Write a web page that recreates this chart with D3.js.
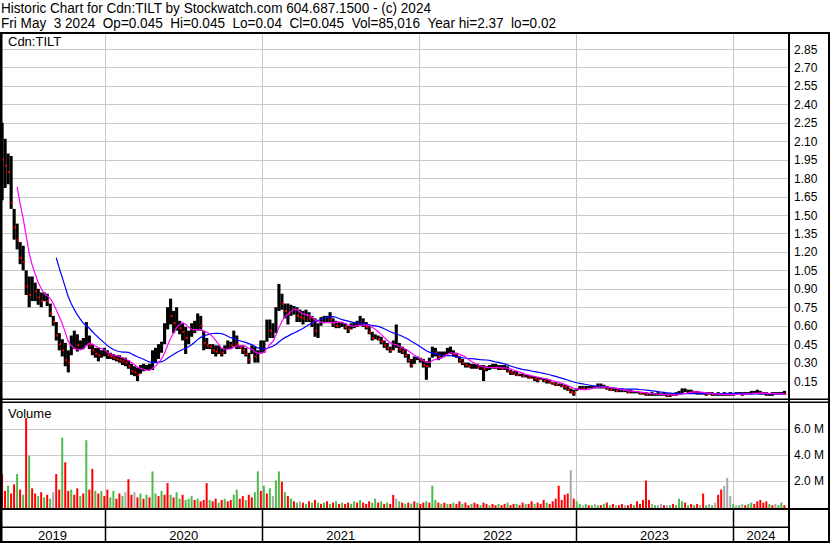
<!DOCTYPE html>
<html>
<head>
<meta charset="utf-8">
<script src="https://cdnjs.cloudflare.com/ajax/libs/d3/7.8.5/d3.min.js"></script>
<style>
body { margin: 0; background: #fff; }
text { font-family: "Liberation Sans", Arial, sans-serif; fill: #000; }
</style>
</head>
<body>
<div id="chart"></div>
<script>
/* Cdn:TILT weekly history */

var header_lines = [
	'Historic Chart for Cdn:TILT by Stockwatch.com 604.687.1500 - (c) 2024',
	'Fri May  3 2024  Op=0.045  Hi=0.045  Lo=0.04  Cl=0.045  Vol=85,016  Year hi=2.37  lo=0.02'
];
var year_labels  = ['2019', '2020', '2021', '2022', '2023', '2024'];
var price_ticks  = [0.15, 0.30, 0.45, 0.60, 0.75, 0.90, 1.05, 1.20, 1.35, 1.50, 1.65, 1.80, 1.95, 2.10, 2.25, 2.40, 2.55, 2.70, 2.85];
var volume_ticks = [2, 4, 6];   // millions

var week_high = [
	2.37,2.25,2.12,2.00,1.98,1.55,1.43,1.28,1.25,1.05,
	1.00,1.00,0.95,0.90,0.87,0.87,0.86,0.78,0.68,0.63,
	0.54,0.49,0.46,0.40,0.52,0.56,0.53,0.48,0.50,0.63,
	0.52,0.45,0.42,0.42,0.40,0.42,0.40,0.38,0.37,0.36,
	0.36,0.34,0.34,0.32,0.29,0.27,0.26,0.28,0.29,0.28,
	0.29,0.40,0.42,0.45,0.47,0.62,0.75,0.82,0.72,0.75,
	0.64,0.62,0.59,0.56,0.62,0.64,0.70,0.68,0.56,0.50,
	0.45,0.45,0.44,0.44,0.42,0.44,0.48,0.47,0.56,0.52,
	0.44,0.44,0.42,0.38,0.44,0.43,0.40,0.48,0.48,0.65,
	0.65,0.62,0.75,0.94,0.86,0.78,0.78,0.77,0.76,0.75,
	0.73,0.72,0.73,0.71,0.68,0.66,0.62,0.67,0.68,0.68,
	0.71,0.66,0.64,0.63,0.63,0.62,0.60,0.62,0.63,0.64,
	0.68,0.66,0.63,0.60,0.55,0.53,0.52,0.51,0.48,0.46,
	0.43,0.48,0.61,0.46,0.43,0.41,0.37,0.33,0.35,0.35,
	0.34,0.33,0.31,0.34,0.43,0.42,0.39,0.39,0.39,0.42,
	0.43,0.40,0.38,0.35,0.33,0.30,0.30,0.29,0.29,0.29,
	0.28,0.28,0.27,0.28,0.29,0.29,0.28,0.28,0.28,0.27,
	0.24,0.23,0.23,0.21,0.21,0.20,0.20,0.19,0.19,0.18,
	0.18,0.17,0.17,0.16,0.14,0.14,0.13,0.13,0.12,0.11,
	0.09,0.08,0.09,0.11,0.11,0.11,0.11,0.11,0.11,0.13,
	0.13,0.12,0.11,0.10,0.09,0.09,0.09,0.09,0.08,0.08,
	0.08,0.07,0.07,0.06,0.06,0.06,0.05,0.06,0.05,0.06,
	0.05,0.06,0.05,0.05,0.05,0.06,0.07,0.09,0.09,0.08,
	0.08,0.07,0.07,0.06,0.06,0.06,0.06,0.06,0.05,0.06,
	0.05,0.06,0.05,0.06,0.05,0.06,0.06,0.06,0.06,0.06,
	0.07,0.07,0.08,0.07,0.06,0.06,0.05,0.06,0.06,0.06,
	0.06,0.07
];

var week_low = [
	1.85,1.62,1.72,1.75,1.55,1.30,1.22,1.10,1.05,0.85,
	0.75,0.80,0.80,0.77,0.75,0.80,0.76,0.67,0.60,0.48,
	0.40,0.35,0.27,0.22,0.36,0.41,0.39,0.41,0.41,0.44,
	0.41,0.36,0.34,0.31,0.34,0.35,0.33,0.33,0.32,0.31,
	0.30,0.28,0.27,0.25,0.20,0.19,0.15,0.21,0.23,0.24,
	0.24,0.24,0.30,0.33,0.38,0.45,0.57,0.61,0.54,0.56,
	0.53,0.48,0.37,0.45,0.51,0.54,0.56,0.56,0.40,0.41,
	0.41,0.37,0.35,0.37,0.35,0.37,0.41,0.41,0.43,0.41,
	0.41,0.37,0.35,0.29,0.37,0.30,0.30,0.38,0.38,0.47,
	0.50,0.50,0.54,0.72,0.73,0.66,0.61,0.68,0.69,0.63,
	0.63,0.61,0.63,0.63,0.59,0.51,0.50,0.60,0.62,0.63,
	0.63,0.59,0.58,0.58,0.59,0.57,0.54,0.57,0.58,0.59,
	0.60,0.59,0.57,0.53,0.48,0.49,0.48,0.45,0.42,0.40,
	0.38,0.40,0.42,0.38,0.37,0.34,0.30,0.26,0.29,0.32,
	0.30,0.26,0.16,0.26,0.34,0.35,0.32,0.34,0.35,0.37,
	0.37,0.35,0.34,0.30,0.28,0.26,0.26,0.25,0.25,0.25,
	0.24,0.15,0.23,0.24,0.25,0.25,0.24,0.24,0.24,0.22,
	0.20,0.20,0.19,0.19,0.18,0.18,0.17,0.17,0.15,0.14,
	0.16,0.14,0.13,0.13,0.12,0.11,0.11,0.10,0.08,0.07,
	0.05,0.03,0.07,0.08,0.08,0.08,0.09,0.09,0.09,0.09,
	0.09,0.09,0.08,0.07,0.07,0.06,0.06,0.06,0.06,0.05,
	0.05,0.05,0.05,0.04,0.04,0.03,0.03,0.03,0.03,0.03,
	0.03,0.03,0.02,0.02,0.03,0.03,0.04,0.05,0.06,0.05,
	0.05,0.05,0.04,0.04,0.04,0.03,0.04,0.03,0.03,0.03,
	0.03,0.03,0.03,0.03,0.03,0.04,0.04,0.03,0.04,0.04,
	0.04,0.05,0.05,0.04,0.04,0.03,0.03,0.03,0.04,0.04,
	0.04,0.04
];

var week_close = [
	2.10,1.95,1.90,1.85,1.60,1.40,1.30,1.15,1.12,0.92,
	0.85,0.92,0.88,0.83,0.80,0.83,0.80,0.70,0.63,0.52,
	0.45,0.40,0.32,0.30,0.45,0.48,0.44,0.44,0.45,0.50,
	0.44,0.40,0.37,0.36,0.37,0.38,0.36,0.35,0.34,0.33,
	0.32,0.31,0.30,0.27,0.23,0.22,0.20,0.24,0.25,0.26,
	0.26,0.33,0.36,0.40,0.44,0.58,0.70,0.68,0.62,0.66,
	0.58,0.55,0.50,0.52,0.57,0.60,0.64,0.60,0.46,0.44,
	0.43,0.40,0.39,0.41,0.38,0.41,0.45,0.44,0.50,0.45,
	0.42,0.40,0.37,0.32,0.41,0.35,0.36,0.42,0.45,0.58,
	0.56,0.58,0.70,0.80,0.78,0.72,0.70,0.72,0.72,0.68,
	0.67,0.66,0.68,0.66,0.62,0.56,0.58,0.64,0.65,0.66,
	0.65,0.62,0.60,0.60,0.61,0.59,0.57,0.60,0.61,0.62,
	0.63,0.61,0.59,0.55,0.50,0.50,0.49,0.47,0.44,0.42,
	0.40,0.44,0.45,0.41,0.39,0.36,0.32,0.28,0.32,0.33,
	0.32,0.28,0.27,0.31,0.39,0.38,0.35,0.37,0.37,0.40,
	0.40,0.37,0.35,0.32,0.30,0.28,0.27,0.27,0.27,0.26,
	0.26,0.25,0.25,0.26,0.27,0.26,0.26,0.25,0.25,0.23,
	0.22,0.21,0.20,0.20,0.19,0.19,0.18,0.18,0.17,0.16,
	0.17,0.15,0.15,0.14,0.13,0.12,0.12,0.11,0.10,0.08,
	0.06,0.05,0.08,0.10,0.09,0.10,0.10,0.10,0.10,0.11,
	0.11,0.10,0.09,0.08,0.08,0.07,0.07,0.07,0.07,0.06,
	0.06,0.06,0.06,0.05,0.05,0.04,0.04,0.04,0.04,0.04,
	0.04,0.04,0.03,0.03,0.04,0.04,0.06,0.07,0.07,0.07,
	0.06,0.06,0.05,0.05,0.05,0.04,0.05,0.04,0.04,0.04,
	0.04,0.04,0.04,0.04,0.04,0.05,0.05,0.04,0.05,0.05,
	0.05,0.06,0.06,0.05,0.05,0.04,0.04,0.04,0.05,0.05,
	0.05,0.045
];

// peak daily volume of each week, millions
var week_volume = [
	2.8,2.5,1.2,1.6,1.0,1.7,2.5,1.3,0.9,6.8,
	3.9,1.4,1.0,0.8,1.1,0.7,0.9,0.6,1.1,2.5,
	1.3,5.3,3.4,1.2,1.3,0.9,1.4,0.8,1.0,5.1,
	1.3,2.9,1.2,1.0,1.2,0.8,1.3,0.7,1.2,0.6,
	1.0,0.8,1.1,2.1,0.9,1.1,0.7,1.0,0.6,0.9,
	0.7,2.7,1.0,0.8,1.2,0.9,1.8,0.9,0.7,1.1,
	0.6,0.9,0.5,0.6,0.8,0.5,0.6,0.4,0.5,1.8,
	0.5,0.4,0.6,0.3,0.5,0.6,0.4,0.5,0.9,1.3,
	0.6,0.8,0.5,0.9,0.7,1.1,2.7,1.2,1.6,1.0,
	1.4,0.8,2.0,2.7,1.9,1.1,0.8,0.6,0.4,0.3,
	0.4,0.3,0.2,0.4,0.3,0.5,0.3,0.2,0.3,0.4,
	0.2,0.3,0.4,0.2,0.3,0.2,0.3,0.2,0.4,0.3,
	0.5,0.3,0.2,0.4,0.3,0.6,0.3,0.4,0.2,0.3,
	0.2,0.9,0.6,0.4,0.3,0.2,0.3,0.2,0.4,0.3,
	0.2,0.3,0.4,0.3,1.6,0.5,0.3,0.2,0.3,0.2,
	0.2,0.3,0.2,0.4,0.2,0.3,0.1,0.2,0.3,0.2,
	0.1,0.3,0.2,0.1,0.2,0.1,0.2,0.1,0.2,0.3,
	0.1,0.2,0.2,0.1,0.3,0.2,0.2,0.4,0.2,0.3,
	0.2,0.5,0.3,0.2,0.4,0.6,1.6,0.5,0.9,1.0,
	2.8,0.6,0.4,0.2,0.1,0.2,0.1,0.1,0.2,0.1,
	0.1,0.2,0.3,0.1,0.2,0.1,0.1,0.2,0.1,0.1,
	0.2,0.1,0.4,0.2,0.5,2.0,0.5,0.2,0.1,0.1,
	0.2,0.1,0.1,0.1,0.2,0.1,0.6,0.4,0.3,0.1,
	0.2,0.1,0.2,0.1,1.0,0.1,0.2,0.1,0.3,0.9,
	1.3,1.6,2.2,0.8,0.2,0.1,0.1,0.2,0.1,0.2,
	0.3,0.2,0.4,0.5,0.3,0.4,0.2,0.1,0.2,0.1,
	0.3,0.1
];

// g = up, r = down, n = unchanged
var volume_color = (
	'grrgrrgrgr' + 'grrgrgrgnr' + 'rgrrgrrgrg' + 'rrgrgrrggr' + 'rgnrrnrgrg' +
	'rggrgrrgrg' + 'grgggrgrrr' + 'grrgrgrrgg' + 'rrgrrggrgr' + 'gnggrgrgrg' +
	'nrgrgrgrgr' + 'grgrgrrggr' + 'grrrggrgrg' + 'rrngrgrgrg' + 'rrgrggrgrg' +
	'rgrrgrrgrr' + 'grrgrrgrrg' + 'rrgrrgrrgr' + 'rrgrrrrrrr' + 'nrggngrgng' +
	'rgrgrnrrnr' + 'rgrrrrrngn' + 'nrngrgggrg' + 'rgrnrgngnr' + 'rnnngngnrg' +
	'grrrrrgrng' + 'gr'
).split('');

var first_week = new Date(2019, 4, 3);

var chart_width  = 830;
var chart_height = 543;
var plot_right   = 789;
var grid_color   = '#c8c8c8';
var colors       = { g: '#4cbb4c', r: '#ff0000', n: '#a8a8a8' };

var weeks = week_close.map(function(d, i){
	return {
		date: d3.timeDay.offset(first_week, 7 * i),
		high: week_high[i],
		low: week_low[i],
		close: week_close[i],
		prev: i > 0 ? week_close[i - 1] : week_close[i],
		volume: week_volume[i],
		color: volume_color[i]
	};
});

var svg = d3.select('#chart')
		.append('svg')
		.attr('width', chart_width)
		.attr('height', chart_height);

svg.append('rect')
		.attr('width', chart_width)
		.attr('height', chart_height)
		.attr('fill', '#fff');

// Scales
var x_scale = d3.scaleTime()
		.domain([new Date(2020, 0, 1), new Date(2024, 0, 1)])
		.range([105, 733]);

var y_scale = d3.scaleLinear()
		.domain([0, 2.85])
		.range([399.5, 49]);

var v_scale = d3.scaleLinear()
		.domain([0, 6])
		.range([506.5, 428.5]);

var year_starts = d3.timeYear.range(new Date(2020, 0, 1), new Date(2024, 1, 1));

// Header (keep the double spaces)
svg.selectAll('.header')
		.data(header_lines)
		.enter()
		.append('text')
		.attr('x', 1)
		.attr('y', function(d, i){ return 13 + i * 15; })
		.attr('font-size', '14px')
		.attr('textLength', function(d, i){ return i === 0 ? 430 : 555; })
		.attr('lengthAdjust', 'spacingAndGlyphs')
		.text(function(d){ return d.replace(/  /g, ' \u00a0'); });

// Grid lines
svg.selectAll('.pgrid')
		.data(price_ticks)
		.enter()
		.append('line')
		.attr('x1', 2)
		.attr('x2', plot_right)
		.attr('y1', function(d){ return Math.round(y_scale(d)) + 0.5; })
		.attr('y2', function(d){ return Math.round(y_scale(d)) + 0.5; })
		.attr('stroke', grid_color);

svg.selectAll('.vgrid')
		.data(volume_ticks)
		.enter()
		.append('line')
		.attr('x1', 2)
		.attr('x2', plot_right)
		.attr('y1', function(d){ return Math.round(v_scale(d)) + 0.5; })
		.attr('y2', function(d){ return Math.round(v_scale(d)) + 0.5; })
		.attr('stroke', grid_color);

[[33, 399], [403, 508]].forEach(function(band){
	svg.selectAll(null)
			.data(year_starts)
			.enter()
			.append('line')
			.attr('x1', function(d){ return Math.round(x_scale(d)) + 0.5; })
			.attr('x2', function(d){ return Math.round(x_scale(d)) + 0.5; })
			.attr('y1', band[0])
			.attr('y2', band[1])
			.attr('stroke', grid_color);
});

// Labels inside panels
svg.append('text')
		.attr('x', 8)
		.attr('y', 46)
		.attr('font-size', '13px')
		.text('Cdn:TILT');

svg.append('text')
		.attr('x', 8)
		.attr('y', 418)
		.attr('font-size', '13px')
		.text('Volume');

// Volume bars
svg.selectAll('.vol')
		.data(weeks)
		.enter()
		.append('rect')
		.attr('x', function(d){ return x_scale(d.date) - 2.5; })
		.attr('y', function(d){ return v_scale(d.volume); })
		.attr('width', 2)
		.attr('height', function(d){ return 508 - v_scale(d.volume); })
		.attr('fill', function(d){ return colors[d.color]; });

// Price bars
svg.selectAll('.bar')
		.data(weeks)
		.enter()
		.append('rect')
		.attr('x', function(d){ return x_scale(d.date) - 3; })
		.attr('y', function(d){ return y_scale(d.high); })
		.attr('width', 3.1)
		.attr('height', function(d){ return Math.max(1.5, y_scale(d.low) - y_scale(d.high)); })
		.attr('fill', '#000');

svg.selectAll('.tick-close')
		.data(weeks.filter(function(d){ return d.close < d.prev; }))
		.enter()
		.append('rect')
		.attr('x', function(d){ return x_scale(d.date) - 1.5; })
		.attr('y', function(d){ return y_scale(d.close) - 1; })
		.attr('width', 2)
		.attr('height', 2)
		.attr('fill', '#ff0000');

// Moving averages of the weekly closes
function moving_average(n){
	var out = [];
	for (var i = n - 1; i < weeks.length; i++) {
		var vals = weeks.slice(i - n + 1, i + 1).map(function(d){ return d.close; });
		out.push({ date: weeks[i].date, value: d3.mean(vals) });
	}
	return out;
}

var ma_line = d3.line()
		.x(function(d){ return x_scale(d.date) - 1.5; })
		.y(function(d){ return y_scale(d.value); });

svg.append('path')
		.datum(moving_average(20))
		.attr('d', ma_line)
		.attr('fill', 'none')
		.attr('stroke', '#0000ff')
		.attr('stroke-width', 1.2);

svg.append('path')
		.datum(moving_average(7))
		.attr('d', ma_line)
		.attr('fill', 'none')
		.attr('stroke', '#ff00ff')
		.attr('stroke-width', 1.2);

// Right axis labels
svg.selectAll('.plabel')
		.data(price_ticks)
		.enter()
		.append('text')
		.attr('x', 794)
		.attr('y', function(d){ return y_scale(d) + 4.5; })
		.attr('font-size', '12px')
		.text(function(d){ return d.toFixed(2); });

svg.selectAll('.vlabel')
		.data(volume_ticks)
		.enter()
		.append('text')
		.attr('x', 794)
		.attr('y', function(d){ return v_scale(d) + 4.5; })
		.attr('font-size', '12px')
		.text(function(d){ return d.toFixed(1) + ' M'; });

// Year band
var year_edges = [0].concat(year_starts.map(x_scale), [plot_right]);

svg.selectAll('.ylabel')
		.data(year_labels)
		.enter()
		.append('text')
		.attr('x', function(d, i){ return (year_edges[i] + year_edges[i + 1]) / 2; })
		.attr('y', 540)
		.attr('font-size', '13px')
		.attr('text-anchor', 'middle')
		.text(function(d){ return d; });

svg.selectAll('.ysep')
		.data(year_starts)
		.enter()
		.append('line')
		.attr('x1', function(d){ return Math.round(x_scale(d)) + 0.5; })
		.attr('x2', function(d){ return Math.round(x_scale(d)) + 0.5; })
		.attr('y1', 509)
		.attr('y2', 541)
		.attr('stroke', '#000')
		.attr('stroke-width', 1.5);

// Frame
var frame = svg.append('g').attr('fill', '#000');
frame.append('rect').attr('x', 0).attr('y', 32).attr('width', 830).attr('height', 2);
frame.append('rect').attr('x', 0).attr('y', 398.5).attr('width', 830).attr('height', 1.5);
frame.append('rect').attr('x', 0).attr('y', 401.5).attr('width', 830).attr('height', 1.5);
frame.append('rect').attr('x', 0).attr('y', 508).attr('width', 830).attr('height', 2);
frame.append('rect').attr('x', 0).attr('y', 526.5).attr('width', plot_right).attr('height', 1.5);
frame.append('rect').attr('x', 0).attr('y', 541).attr('width', 830).attr('height', 2);
frame.append('rect').attr('x', 0).attr('y', 32).attr('width', 2.5).attr('height', 511);
frame.append('rect').attr('x', plot_right - 1).attr('y', 32).attr('width', 2).attr('height', 511);
frame.append('rect').attr('x', 828).attr('y', 32).attr('width', 2).attr('height', 511);
</script>
</body>
</html>
